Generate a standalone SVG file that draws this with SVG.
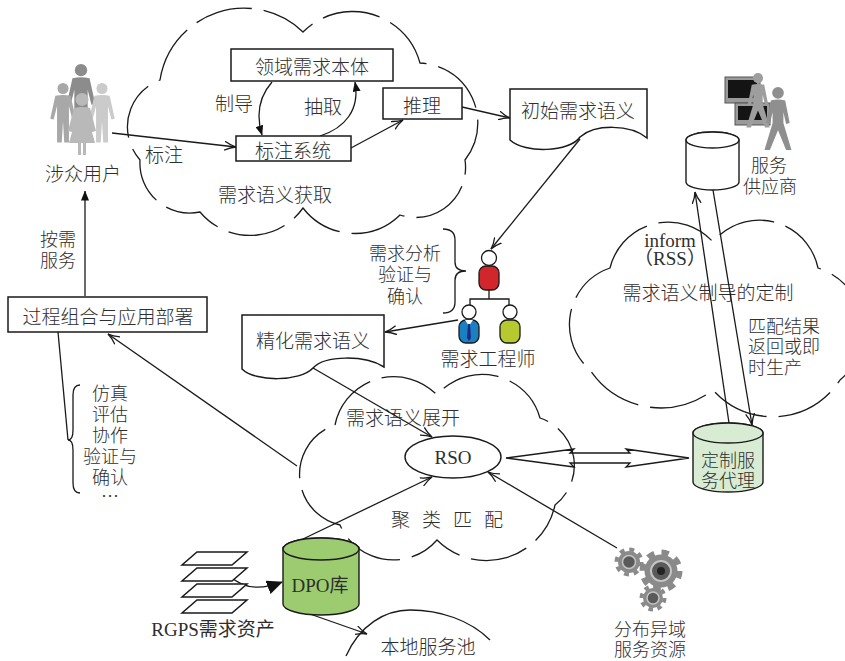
<svg xmlns="http://www.w3.org/2000/svg" xmlns:xlink="http://www.w3.org/1999/xlink" width="845" height="661" viewBox="0 0 845 661">
  <style>
    .t{font-family:"Noto Sans CJK SC","Noto Sans",sans-serif;font-size:19px;font-weight:300;fill:#2e2e2e;text-anchor:middle;dominant-baseline:central}
    .m{font-size:18px}
    .s{font-family:"Liberation Serif","Noto Sans CJK SC",serif;font-size:19px;fill:#2e2e2e;text-anchor:middle;dominant-baseline:central}
    .ln{stroke:#1a1a1a;stroke-width:1.3;fill:none}
    .cloud{stroke:#1a1a1a;stroke-width:1.3;fill:none;stroke-dasharray:58 12}
    .box{fill:#fff;stroke:#1a1a1a;stroke-width:1.5}
    .head{fill:#fff;stroke:#1a1a1a;stroke-width:1.3}
    .body{stroke:#1a1a1a;stroke-width:1.3}
  </style>
  <defs>
    <marker id="arr" viewBox="0 0 12 10" refX="11.5" refY="5" markerWidth="12" markerHeight="10" markerUnits="userSpaceOnUse" orient="auto">
      <path d="M0,0.5 Q6,4 11.5,5 Q6,6 0,9.5" fill="none" stroke="#1a1a1a" stroke-width="1.3"/>
    </marker>
    <marker id="tri" viewBox="0 0 10 8" refX="9.5" refY="4" markerWidth="10" markerHeight="8" markerUnits="userSpaceOnUse" orient="auto">
      <path d="M0,0 L10,4 L0,8 Z" fill="#111"/>
    </marker>
    <marker id="triL" viewBox="0 0 16 14" refX="15" refY="7" markerWidth="16" markerHeight="14" markerUnits="userSpaceOnUse" orient="auto">
      <path d="M0,0 L16,7 L0,14 Z" fill="#111"/>
    </marker>
    <g id="man"><circle cx="0" cy="6.5" r="6.5"/><path d="M-9,15 Q0,13 9,15 L15,42 L11,43 L7,27 L7,70 L1.5,70 L0,45 L-1.5,70 L-7,70 L-7,27 L-11,43 L-15,42 Z"/></g>
    <g id="woman"><circle cx="0" cy="6.5" r="6.5"/><path d="M-8,15 Q0,13 8,15 L14,38 L10,39 L7,28 L13,50 L4,50 L4,62 L1,62 L1,50 L-1,50 L-1,62 L-4,62 L-4,50 L-13,50 L-7,28 L-10,39 L-14,38 Z"/></g>
    <g id="walker"><circle cx="0" cy="6.5" r="6.5"/><path d="M-8,15 Q0,13 8,15 L13,40 L9,41 L6,28 L6,40 L15,70 L9,70 L0,48 L-9,70 L-15,70 L-6,40 L-6,28 L-9,41 L-13,40 Z"/></g>
  </defs>
  <rect width="845" height="661" fill="#fff"/>

  <!-- dashed clouds -->
  <g id="clouds">
    <path class="cloud" d="M160,80 A85,85 0 0,1 303,32 A70,70 0 0,1 420,63 A60,60 0 0,1 465,160 A50,50 0 0,1 400,215 A65,65 0 0,1 303,208 A65,65 0 0,1 200,212 A50,50 0 0,1 140,160 A50,50 0 0,1 160,80 Z"/>
    <path class="cloud" d="M335,425 A60,60 0 0,1 437,395 A60,60 0 0,1 540,418 A50,50 0 0,1 555,505 A70,70 0 0,1 437,540 A58,58 0 0,1 340,525 A52,52 0 0,1 335,425 Z"/>
    <path class="cloud" d="M610,268 A60,60 0 0,1 713,242 A60,60 0 0,1 818,268 A65,65 0 0,1 840,380 A80,80 0 0,1 713,390 A85,85 0 0,1 590,370 A60,60 0 0,1 610,268 Z"/>
    <text class="t" x="275" y="193">需求语义获取</text>
    <text class="t" x="403" y="416">需求语义展开</text>
    <text class="t" x="453" y="518" letter-spacing="12">聚类匹配</text>
    <text class="t" x="708" y="291">需求语义制导的定制</text>
  </g>

  <!-- connectors -->
  <g id="connectors">
    <path class="ln" d="M112,133 L236,147" marker-end="url(#arr)"/>
    <text class="t" x="164" y="153">标注</text>
    <path class="ln" d="M272,82 C258,98 256,115 262,135" marker-end="url(#tri)"/>
    <text class="t" x="234" y="102">制导</text>
    <path class="ln" d="M320,136 C345,128 360,110 355,82" marker-end="url(#tri)"/>
    <text class="t" x="323" y="105">抽取</text>
    <path class="ln" d="M351,148 L403,120" marker-end="url(#arr)"/>
    <path class="ln" d="M462,107 L510,118" marker-end="url(#arr)"/>
    <path class="ln" d="M580,139 L491,249" marker-end="url(#arr)"/>
    <path class="ln" d="M458,320 L385,332" marker-end="url(#arr)"/>
    <path class="ln" d="M313,368 L432,437" marker-end="url(#arr)"/>
    <path class="ln" d="M303,539 L432,477" marker-end="url(#arr)"/>
    <path class="ln" d="M617,548 L488,472" marker-end="url(#arr)"/>
    <path class="ln" d="M297,466 L108,334" marker-end="url(#arr)"/>
    <path class="ln" d="M85,296 L85,191" marker-end="url(#tri)"/>
    <path class="ln" d="M58,332 L68,440"/>
    <path class="ln" d="M729,423 L695,192" marker-end="url(#arr)"/>
    <path class="ln" d="M713,190 L752,425" marker-end="url(#arr)"/>
    <path class="ln" d="M230,576 C240,586 256,592 282,582" marker-end="url(#triL)"/>
    <path class="ln" d="M310,614 L367,634" marker-end="url(#arr)"/>
    <!-- hollow double arrow between RSO and the proxy -->
    <path class="ln" d="M506,458 L574,449 L570,453 L630,453 L626,449 L689,458 L626,467 L630,463 L570,463 L574,467 Z"/>
    <!-- braces -->
    <path class="ln" d="M443,229 Q455,229 455,240 L455,262 Q455,271 466,271 Q455,271 455,280 L455,302 Q455,313 443,313"/>
    <path class="ln" d="M80,385 Q73,385 73,395 L73,430 Q73,440 68,440 Q73,440 73,450 L73,483 Q73,493 80,493"/>
    <!-- local service pool outline -->
    <path class="ln" d="M346,656 C360,625 385,610 410,610 C440,610 470,620 490,640"/>
  </g>

  <g id="ontology">
    <rect class="box" x="231" y="49" width="162" height="32"/>
    <text class="t" x="312" y="65">领域需求本体</text>
  </g>
  <g id="reasoning">
    <rect class="box" x="383" y="88" width="79" height="31"/>
    <text class="t" x="422" y="104">推理</text>
  </g>
  <g id="annotation">
    <rect class="box" x="236" y="136" width="115" height="25"/>
    <text class="t" x="293" y="149">标注系统</text>
  </g>

  <g id="initial-semantics">
    <path class="box" d="M510,89 H647 V138 C630,124 595,124 580,137 C570,152 525,154 510,140 Z"/>
    <text class="t" x="578" y="109">初始需求语义</text>
  </g>

  <g id="refined-semantics">
    <path class="box" d="M242,315 H384 V367 C365,355 325,355 313,368 C300,382 255,382 242,369 Z"/>
    <text class="t" x="313" y="339">精化需求语义</text>
  </g>

  <g id="stakeholders">
    <use xlink:href="#man" transform="translate(81,64) scale(0.95)" fill="#8c8c8c"/>
    <use xlink:href="#man" transform="translate(63,83) scale(0.85)" fill="#a8a8a8"/>
    <use xlink:href="#man" transform="translate(102,83) scale(0.85)" fill="#cbcbcb"/>
    <use xlink:href="#woman" transform="translate(82,93)" fill="#b9b9b9"/>
    <text class="t" x="83" y="172">涉众用户</text>
  </g>

  <g id="on-demand">
    <text class="t m" x="58" y="238">按需</text>
    <text class="t m" x="58" y="259">服务</text>
  </g>

  <g id="deployment">
    <rect class="box" x="8" y="297" width="199" height="35"/>
    <text class="t" x="108" y="315">过程组合与应用部署</text>
    <text class="t m" x="110" y="392">仿真</text>
    <text class="t m" x="110" y="413">评估</text>
    <text class="t m" x="110" y="434">协作</text>
    <text class="t m" x="110" y="455">验证与</text>
    <text class="t m" x="110" y="476">确认</text>
    <text class="t m" x="110" y="495">…</text>
  </g>

  <g id="engineers">
    <text class="t m" x="405" y="252">需求分析</text>
    <text class="t m" x="405" y="273">验证与</text>
    <text class="t m" x="405" y="295">确认</text>
    <path class="ln" d="M489,290 V299 M470,305 V299 H509 V305"/>
    <rect class="body" x="479" y="266" width="20" height="24" rx="7" fill="#d1262b"/>
    <circle class="head" cx="489" cy="258" r="7.5"/>
    <rect class="body" x="459" y="320" width="20" height="23" rx="7" fill="#1b80c3"/>
    <path d="M465,320 L469,326 L473,320 Z" fill="#fff"/>
    <path d="M468,324 L470,324 L471,338 L469,341 L467,338 Z" fill="#1c2a80"/>
    <circle class="head" cx="469" cy="312" r="7"/>
    <rect class="body" x="500" y="320" width="20" height="23" rx="7" fill="#b6c92f"/>
    <circle class="head" cx="510" cy="312" r="7"/>
    <text class="t" x="488" y="357">需求工程师</text>
  </g>

  <g id="rso">
    <ellipse cx="453" cy="457" rx="48" ry="21" fill="#fff" stroke="#1a1a1a" stroke-width="1.4"/>
    <text class="s" x="453" y="457">RSO</text>
  </g>

  <g id="provider">
    <rect x="725" y="77" width="35" height="26" fill="#9a9a9a" stroke="#555" stroke-width="1"/>
    <rect x="728" y="80" width="29" height="18" fill="#141414"/>
    <rect x="735" y="103" width="35" height="22" fill="#9a9a9a" stroke="#555" stroke-width="1"/>
    <rect x="738" y="106" width="29" height="14" fill="#141414"/>
    <use xlink:href="#walker" transform="translate(758,73) scale(0.78)" fill="#9e9e9e"/>
    <use xlink:href="#walker" transform="translate(778,87) scale(0.9)" fill="#8f8f8f"/>
    <path d="M686,140 A26.5,8 0 0,1 739,140 L739,182 A26.5,8 0 0,1 686,182 Z" fill="#fff" stroke="#1a1a1a" stroke-width="1.4"/>
    <ellipse cx="712.5" cy="140" rx="26.5" ry="8" fill="#fff" stroke="#1a1a1a" stroke-width="1.4"/>
    <text class="t m" x="769" y="164">服务</text>
    <text class="t m" x="770" y="185">供应商</text>
  </g>

  <g id="customization">
    <text class="s" x="670" y="240">inform</text>
    <text class="s" x="670" y="258">（RSS）</text>
    <text class="t m" x="748" y="325" style="text-anchor:start">匹配结果</text>
    <text class="t m" x="748" y="345" style="text-anchor:start">返回或即</text>
    <text class="t m" x="748" y="366" style="text-anchor:start">时生产</text>
  </g>

  <g id="proxy">
    <path d="M693,433 A35,10 0 0,1 763,433 L763,482 A35,10 0 0,1 693,482 Z" fill="#d8ebd3" stroke="#1a1a1a" stroke-width="1.4"/>
    <ellipse cx="728" cy="433" rx="35" ry="10" fill="#d8ebd3" stroke="#1a1a1a" stroke-width="1.4"/>
    <text class="t m" x="728" y="459">定制服</text>
    <text class="t m" x="728" y="479">务代理</text>
  </g>

  <g id="dpo">
    <path d="M283,549 A38,11 0 0,1 359,549 L359,604 A38,11 0 0,1 283,604 Z" fill="#9dcc70" stroke="#1a1a1a" stroke-width="1.4"/>
    <ellipse cx="321" cy="549" rx="38" ry="11" fill="#9dcc70" stroke="#1a1a1a" stroke-width="1.4"/>
    <text class="s" x="320" y="585">DPO库</text>
  </g>

  <g id="rgps-assets">
    <path class="box" d="M197,552 L247,552 L232,565 L182,565 Z"/>
    <path class="box" d="M197,568 L247,568 L232,581 L182,581 Z"/>
    <path class="box" d="M197,584 L247,584 L232,597 L182,597 Z"/>
    <path class="box" d="M197,600 L247,600 L232,613 L182,613 Z"/>
    <text class="s" x="213" y="629">RGPS需求资产</text>
  </g>

  <g id="local-pool">
    <text class="t" x="428" y="645">本地服务池</text>
  </g>

  <g id="distributed-resources">
    <circle cx="629" cy="562" r="12.5" fill="none" stroke="#8a8a8a" stroke-width="4" stroke-dasharray="4.9 4.9"/>
    <circle cx="629" cy="562" r="11" fill="#8a8a8a"/>
    <circle cx="629" cy="562" r="6.5" fill="#5a5a5a" stroke="#c4c4c4" stroke-width="1.5"/>
    <circle cx="661" cy="571" r="18.5" fill="none" stroke="#8a8a8a" stroke-width="6" stroke-dasharray="7.26 7.26"/>
    <circle cx="661" cy="571" r="16.5" fill="#8a8a8a"/>
    <circle cx="661" cy="571" r="10" fill="#5a5a5a" stroke="#c4c4c4" stroke-width="2"/>
    <circle cx="661" cy="571" r="4" fill="#222"/>
    <circle cx="653" cy="598" r="11.5" fill="none" stroke="#8a8a8a" stroke-width="4" stroke-dasharray="4.5 4.5"/>
    <circle cx="653" cy="598" r="10" fill="#8a8a8a"/>
    <circle cx="653" cy="598" r="6" fill="#5a5a5a" stroke="#c4c4c4" stroke-width="1.5"/>
    <text class="t m" x="650" y="628">分布异域</text>
    <text class="t m" x="650" y="648">服务资源</text>
  </g>
</svg>
